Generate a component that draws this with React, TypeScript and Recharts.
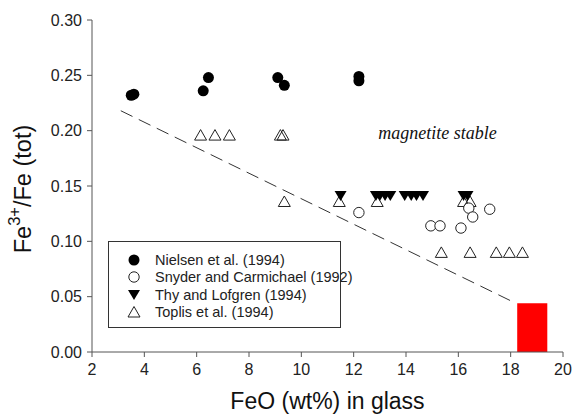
import {
    ScatterChart,
    Scatter,
    XAxis,
    YAxis,
    ReferenceLine,
    ReferenceArea,
    ReferenceDot,
    Label,
} from 'recharts';

// FeO (wt%) vs Fe3+/Fe(tot)
const nielsenFeO = [3.5, 3.6, 6.25, 6.45, 9.1, 9.35, 12.2, 12.2];
const nielsenFe3 = [0.232, 0.233, 0.236, 0.248, 0.248, 0.241, 0.245, 0.249];

const snyderFeO = [12.2, 14.95, 15.3, 16.1, 16.4, 16.55, 17.2];
const snyderFe3 = [0.126, 0.114, 0.114, 0.112, 0.13, 0.122, 0.129];

const thyFeO = [11.5, 12.85, 13.0, 13.2, 13.4, 13.95, 14.2, 14.4, 14.65, 16.2, 16.35];
const thyFe3 = [0.141, 0.141, 0.141, 0.141, 0.141, 0.141, 0.141, 0.141, 0.141, 0.141, 0.141];

const toplisFeO = [6.15, 6.7, 7.25, 9.2, 9.3, 9.35, 11.45, 12.9, 16.2, 16.45, 15.35, 16.45, 17.45, 17.95, 18.45];
const toplisFe3 = [0.196, 0.196, 0.196, 0.196, 0.196, 0.136, 0.136, 0.136, 0.136, 0.136, 0.09, 0.09, 0.09, 0.09, 0.09];

const xTicks = [2, 4, 6, 8, 10, 12, 14, 16, 18, 20];
const yTicks = [0, 0.05, 0.1, 0.15, 0.2, 0.25, 0.3];

// boundary line and red box
const boundaryLine = [
    { x: 3.1, y: 0.218 },
    { x: 18.2, y: 0.044 },
];
const redBoxFeO = [18.25, 19.4];
const redBoxFe3 = [0, 0.044];

const legendNames = [
    'Nielsen et al. (1994)',
    'Snyder and Carmichael (1992)',
    'Thy and Lofgren (1994)',
    'Toplis et al. (1994)',
];

const toPoints = (xs: number[], ys: number[]) => xs.map((x, i) => ({ x, y: ys[i] }));

const nielsenData = toPoints(nielsenFeO, nielsenFe3);
const snyderData = toPoints(snyderFeO, snyderFe3);
const thyData = toPoints(thyFeO, thyFe3);
const toplisData = toPoints(toplisFeO, toplisFe3);

const FONT = '"Liberation Sans", Arial, sans-serif';

const filledCircle = (p: any) => <circle cx={p.cx} cy={p.cy} r={5.5} fill="#000" />;
const openCircle = (p: any) => <circle cx={p.cx} cy={p.cy} r={5.2} fill="#fff" stroke="#222" strokeWidth={1} />;
const downTri = (p: any) => (
    <path d={`M${p.cx - 6},${p.cy - 5} L${p.cx + 6},${p.cy - 5} L${p.cx},${p.cy + 5} Z`} fill="#000" />
);
const upTri = (p: any) => (
    <path
        d={`M${p.cx - 6},${p.cy + 5} L${p.cx + 6},${p.cy + 5} L${p.cx},${p.cy - 5.5} Z`}
        fill="none"
        stroke="#222"
        strokeWidth={1}
    />
);

const YLabel = () => (
    <text
        x={23}
        y={189}
        transform="rotate(-90, 23, 189)"
        textAnchor="middle"
        dominantBaseline="central"
        fontFamily={FONT}
        fontSize={23.5}
        fill="#111"
    >
        Fe
        <tspan dy={-9} fontSize={16.5}>3+</tspan>
        <tspan dy={9}>/Fe (tot)</tspan>
    </text>
);

const XLabel = () => (
    <text x={327.5} y={409} textAnchor="middle" fontFamily={FONT} fontSize={23} fill="#111">
        FeO (wt%) in glass
    </text>
);

const legendIcons = [
    <circle cx={8} cy={8} r={5.5} fill="#000" />,
    <circle cx={8} cy={8} r={5.2} fill="#fff" stroke="#222" />,
    <path d="M2,3 L14,3 L8,13 Z" fill="#000" />,
    <path d="M2,13 L14,13 L8,2.5 Z" fill="none" stroke="#222" />,
];

function LegendBox() {
    return (
        <div
            style={{
                position: 'absolute',
                left: 108,
                top: 241,
                width: 231,
                height: 85,
                border: '1px solid #333',
                background: '#fff',
                fontFamily: FONT,
                fontSize: 14.5,
                color: '#222',
                boxSizing: 'content-box',
            }}
        >
            {legendNames.map((name, i) => (
                <div
                    key={name}
                    style={{ position: 'absolute', left: 17, top: 10 + i * 17.4, height: 16, display: 'flex', alignItems: 'center' }}
                >
                    <svg width={16} height={16}>{legendIcons[i]}</svg>
                    <span style={{ marginLeft: 13, whiteSpace: 'nowrap' }}>{name}</span>
                </div>
            ))}
        </div>
    );
}

export default function App() {
    return (
        <div style={{ position: 'absolute', left: 0, top: 0, width: 573, height: 419, background: '#fff' }}>
            <ScatterChart width={573} height={419} margin={{ top: 20, right: 10, left: 0, bottom: 0 }}>
                <XAxis
                    xAxisId="main"
                    type="number"
                    dataKey="x"
                    domain={[2, 20]}
                    ticks={xTicks}
                    height={67}
                    tickSize={5}
                    tickMargin={7}
                    stroke="#555"
                    tick={{ fill: '#222', fontSize: 16, fontFamily: FONT }}
                    allowDataOverflow
                >
                    <Label content={<XLabel />} />
                </XAxis>
                <XAxis
                    xAxisId="top"
                    orientation="top"
                    type="number"
                    domain={[2, 20]}
                    height={0}
                    tick={false}
                    tickLine={false}
                    stroke="#777"
                />
                <YAxis
                    yAxisId="main"
                    type="number"
                    dataKey="y"
                    domain={[0, 0.3]}
                    ticks={yTicks}
                    width={92}
                    tickSize={5}
                    tickMargin={5}
                    stroke="#555"
                    tickFormatter={(v: number) => v.toFixed(2)}
                    tick={{ fill: '#222', fontSize: 16, fontFamily: FONT }}
                    allowDataOverflow
                >
                    <Label content={<YLabel />} />
                </YAxis>
                <YAxis
                    yAxisId="right"
                    orientation="right"
                    type="number"
                    domain={[0, 0.3]}
                    width={0}
                    tick={false}
                    tickLine={false}
                    stroke="#777"
                />
                <ReferenceArea
                    xAxisId="main"
                    yAxisId="main"
                    x1={redBoxFeO[0]}
                    x2={redBoxFeO[1]}
                    y1={redBoxFe3[0]}
                    y2={redBoxFe3[1]}
                    fill="#ff0000"
                    fillOpacity={1}
                    stroke="none"
                />
                <ReferenceLine
                    xAxisId="main"
                    yAxisId="main"
                    segment={boundaryLine}
                    stroke="#333"
                    strokeWidth={1}
                    strokeDasharray="13 7"
                />
                <ReferenceDot
                    xAxisId="main"
                    yAxisId="main"
                    x={15.2}
                    y={0.198}
                    r={0}
                    fill="none"
                    stroke="none"
                >
                    <Label
                        value="magnetite stable"
                        position="center"
                        fill="#111"
                        fontSize={18}
                        fontStyle="italic"
                        fontFamily='"Liberation Serif", "Times New Roman", serif'
                    />
                </ReferenceDot>
                <Scatter xAxisId="main" yAxisId="main" data={toplisData} shape={upTri} isAnimationActive={false} />
                <Scatter xAxisId="main" yAxisId="main" data={snyderData} shape={openCircle} isAnimationActive={false} />
                <Scatter xAxisId="main" yAxisId="main" data={thyData} shape={downTri} isAnimationActive={false} />
                <Scatter xAxisId="main" yAxisId="main" data={nielsenData} shape={filledCircle} isAnimationActive={false} />
            </ScatterChart>
            <LegendBox />
        </div>
    );
}
